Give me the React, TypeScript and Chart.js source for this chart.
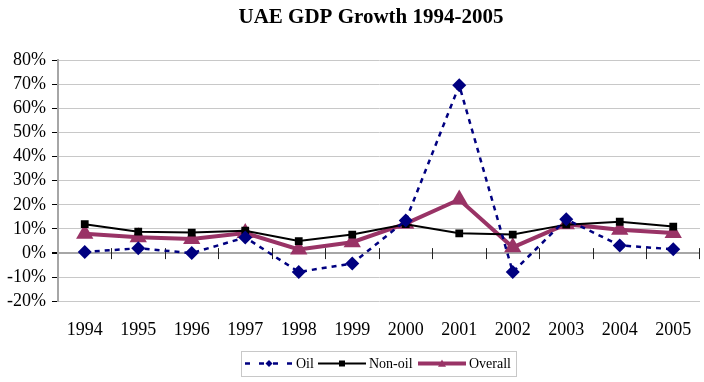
import React, { useEffect, useRef } from 'react';
import { Chart, registerables } from 'chart.js';

Chart.register(...registerables);

const years = ['1994', '1995', '1996', '1997', '1998', '1999', '2000', '2001', '2002', '2003', '2004', '2005'];
const oilGrowth = [0.005, 0.02, 0.0, 0.065, -0.078, -0.043, 0.135, 0.695, -0.078, 0.14, 0.032, 0.016];
const nonOilGrowth = [0.12, 0.089, 0.085, 0.093, 0.05, 0.077, 0.12, 0.082, 0.077, 0.118, 0.13, 0.11];
const overallGrowth = [0.08, 0.066, 0.059, 0.083, 0.015, 0.045, 0.122, 0.222, 0.024, 0.12, 0.097, 0.083];
const yMin = -0.2;
const yMax = 0.8;
const yStep = 0.1;
const chartTitle = 'UAE GDP Growth 1994-2005';
const seriesNames = ['Oil', 'Non-oil', 'Overall'];

const FONT = "'Liberation Serif', 'Times New Roman', serif";
const OIL_COLOR = '#000080';
const NONOIL_COLOR = '#000000';
const OVERALL_COLOR = '#993366';

function drawMarker(ctx: CanvasRenderingContext2D, style: string, x: number, y: number, r: number, color: string) {
  ctx.save();
  ctx.fillStyle = color;
  ctx.strokeStyle = color;
  ctx.setLineDash([]);
  ctx.beginPath();
  if (style === 'diamond') {
    ctx.moveTo(x - r, y);
    ctx.lineTo(x, y - r);
    ctx.lineTo(x + r, y);
    ctx.lineTo(x, y + r);
  } else if (style === 'square') {
    ctx.rect(x - r, y - r, 2 * r, 2 * r);
  } else {
    ctx.moveTo(x, y - r);
    ctx.lineTo(x + r, y + r * 0.8);
    ctx.lineTo(x - r, y + r * 0.8);
  }
  ctx.closePath();
  ctx.fill();
  ctx.restore();
}

const titlePlugin = {
  id: 'customTitle',
  afterDraw(chart: any) {
    const ctx = chart.ctx as CanvasRenderingContext2D;
    const a = chart.chartArea;
    ctx.save();
    ctx.font = `bold 21px ${FONT}`;
    ctx.fillStyle = '#000';
    ctx.textAlign = 'center';
    ctx.textBaseline = 'middle';
    ctx.fillText(chartTitle, (a.left + a.right) / 2 - 8, 18);
    ctx.restore();
  },
};

const zeroTicksPlugin = {
  id: 'zeroTicks',
  beforeDatasetsDraw(chart: any) {
    const ctx = chart.ctx as CanvasRenderingContext2D;
    const xs = chart.scales.x;
    const ys = chart.scales.y;
    const y0 = ys.getPixelForValue(0);
    ctx.save();
    ctx.strokeStyle = '#222';
    ctx.lineWidth = 1;
    for (let i = 1; i <= years.length; i++) {
      const x = i < years.length
        ? (xs.getPixelForValue(i - 1) + xs.getPixelForValue(i)) / 2
        : chart.chartArea.right - 1;
      const px = Math.round(x) + 0.5;
      ctx.beginPath();
      ctx.moveTo(px, y0 - 5);
      ctx.lineTo(px, y0 + 6);
      ctx.stroke();
    }
    ctx.restore();
  },
};

const legendPlugin = {
  id: 'customLegend',
  afterDraw(chart: any) {
    const ctx = chart.ctx as CanvasRenderingContext2D;
    const boxLeft = 241;
    const boxTop = 351;
    const boxW = 275;
    const boxH = 25;
    const cy = boxTop + boxH / 2;
    ctx.save();
    ctx.fillStyle = '#fff';
    ctx.fillRect(boxLeft + 0.5, boxTop + 0.5, boxW, boxH);
    ctx.strokeStyle = '#c8c8c8';
    ctx.lineWidth = 1;
    ctx.strokeRect(boxLeft + 0.5, boxTop + 0.5, boxW, boxH);

    const items = [
      { name: seriesNames[0], color: OIL_COLOR, width: 2.5, dash: [5, 9], marker: 'diamond', mr: 3.5, x0: 245 },
      { name: seriesNames[1], color: NONOIL_COLOR, width: 2, dash: [], marker: 'square', mr: 3, x0: 318 },
      { name: seriesNames[2], color: OVERALL_COLOR, width: 4, dash: [], marker: 'triangle', mr: 4, x0: 418 },
    ];
    ctx.font = `14px ${FONT}`;
    ctx.textBaseline = 'middle';
    ctx.textAlign = 'left';
    for (const it of items) {
      ctx.strokeStyle = it.color;
      ctx.lineWidth = it.width;
      ctx.setLineDash(it.dash);
      ctx.beginPath();
      ctx.moveTo(it.x0, cy);
      ctx.lineTo(it.x0 + 48, cy);
      ctx.stroke();
      ctx.setLineDash([]);
      drawMarker(ctx, it.marker, it.x0 + 24, cy, it.mr, it.color);
      ctx.fillStyle = '#000';
      ctx.fillText(it.name, it.x0 + 51, cy + 1);
    }
    ctx.restore();
  },
};

export default function App() {
  const canvasRef = useRef<HTMLCanvasElement | null>(null);

  useEffect(() => {
    if (!canvasRef.current) return;
    const chart = new Chart(canvasRef.current, {
      type: 'line',
      data: {
        labels: years,
        datasets: [
          {
            label: seriesNames[0],
            data: oilGrowth,
            borderColor: OIL_COLOR,
            backgroundColor: OIL_COLOR,
            borderWidth: 2.5,
            borderDash: [5, 5],
            pointStyle: 'rectRot',
            pointRadius: 7,
            pointBorderWidth: 0,
            tension: 0,
          },
          {
            label: seriesNames[1],
            data: nonOilGrowth,
            borderColor: NONOIL_COLOR,
            backgroundColor: NONOIL_COLOR,
            borderWidth: 2,
            pointStyle: 'rect',
            pointRadius: 5.5,
            pointBorderWidth: 0,
            tension: 0,
          },
          {
            label: seriesNames[2],
            data: overallGrowth,
            borderColor: OVERALL_COLOR,
            backgroundColor: OVERALL_COLOR,
            borderWidth: 4,
            pointStyle: 'triangle',
            pointRadius: 10,
            pointBorderWidth: 0,
            tension: 0,
          },
        ],
      },
      options: {
        animation: false,
        responsive: false,
        maintainAspectRatio: false,
        layout: { autoPadding: false, padding: { left: 1, right: 4, top: 60, bottom: 41 } },
        plugins: {
          legend: { display: false },
          title: { display: false },
          tooltip: { enabled: false },
        },
        scales: {
          x: {
            offset: true,
            grid: { display: false, drawTicks: true, tickLength: 18 },
            border: { display: false },
            ticks: {
              color: '#000',
              padding: 0,
              font: { family: FONT, size: 18 },
              maxRotation: 0,
            },
          },
          y: {
            min: yMin,
            max: yMax,
            ticks: {
              stepSize: yStep,
              autoSkip: false,
              color: '#000',
              padding: 6,
              font: { family: FONT, size: 18 },
              callback: (v: any) => `${Math.round(Number(v) * 100)}%`,
            },
            grid: {
              color: (c: any) => (c.tick && Math.abs(c.tick.value) < 1e-9 ? '#a6a6a6' : '#c8c8c8'),
              lineWidth: (c: any) => (c.tick && Math.abs(c.tick.value) < 1e-9 ? 2 : 1),
              tickColor: '#000',
              tickLength: 6,
            },
            border: { color: '#a6a6a6', width: 2 },
          },
        },
      },
      plugins: [titlePlugin, zeroTicksPlugin, legendPlugin],
    });
    return () => chart.destroy();
  }, []);

  return (
    <div style={{ position: 'fixed', left: 0, top: 0, width: 704, height: 382, background: '#fff' }}>
      <canvas ref={canvasRef} width={704} height={382} style={{ width: 704, height: 382, display: 'block' }} />
    </div>
  );
}
